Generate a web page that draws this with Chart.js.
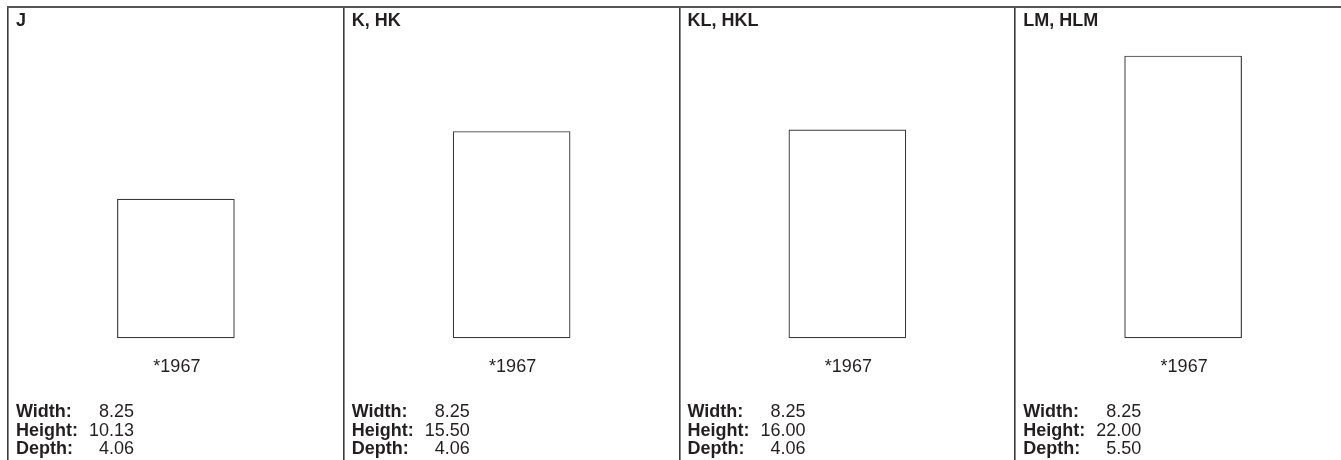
<!DOCTYPE html>
<html>
<head>
<meta charset="utf-8">
<script src="https://cdn.jsdelivr.net/npm/chart.js@4/dist/chart.umd.min.js"></script>
<style>
  html, body { margin: 0; padding: 0; background: #fff; overflow: hidden; }
  #wrap { position: relative; width: 1360px; height: 460px; }
</style>
</head>
<body>
<div id="wrap"><canvas id="chart"></canvas></div>
<script>
'use strict';

// model names per panel
const categories = ['J', 'K, HK', 'KL, HKL', 'LM, HLM'];
// outline box heights as drawn (tallest box = 22)
const boxHeights = [10.84, 16.11, 16.23, 22.0];
const yearLabels = ['*1967', '*1967', '*1967', '*1967'];
const widthValues = ['8.25', '8.25', '8.25', '8.25'];
const heightValues = ['10.13', '15.50', '16.00', '22.00'];
const depthValues = ['4.06', '4.06', '4.06', '5.50'];

const FONT = "'Liberation Sans', Arial, Helvetica, sans-serif";

// draws the panel titles, year and dimension texts
const panelText = {
  id: 'panelText',
  afterDraw: function (chart) {
    const ctx = chart.ctx;
    const x = chart.scales.x;
    const half = (x.getPixelForValue(1) - x.getPixelForValue(0)) / 2;
    const rows = [
      ['Width:', widthValues, 417],
      ['Height:', heightValues, 435.5],
      ['Depth:', depthValues, 454]
    ];
    ctx.save();
    ctx.fillStyle = '#231f20';
    ctx.textBaseline = 'alphabetic';
    categories.forEach(function (name, i) {
      const center = x.getPixelForValue(i);
      const left = center - half;

      ctx.font = 'bold 18px ' + FONT;
      ctx.textAlign = 'left';
      ctx.fillText(name, left + 8, 26);

      ctx.font = '18px ' + FONT;
      ctx.textAlign = 'center';
      ctx.fillText(yearLabels[i], center + 1, 372);

      rows.forEach(function (r) {
        ctx.font = 'bold 18px ' + FONT;
        ctx.textAlign = 'left';
        ctx.fillText(r[0], left + 8, r[2]);
        ctx.font = '18px ' + FONT;
        ctx.textAlign = 'right';
        ctx.fillText(r[1][i], left + 126, r[2]);
      });
    });
    ctx.restore();
  }
};

const ctx = document.getElementById('chart').getContext('2d');
new Chart(ctx, {
  type: 'bar',
  data: {
    labels: categories,
    datasets: [{
      data: boxHeights,
      backgroundColor: '#ffffff',
      borderColor: '#3a3a3a',
      borderWidth: 1.2,
      borderSkipped: false,
      barThickness: 117
    }]
  },
  options: {
    responsive: true,
    maintainAspectRatio: false,
    animation: false,
    layout: { padding: { top: 7, left: 8, right: 9, bottom: 0 } },
    plugins: {
      legend: { display: false },
      tooltip: { enabled: false }
    },
    scales: {
      x: {
        position: 'top',
        offset: true,
        ticks: { display: false },
        grid: {
          offset: true,
          drawTicks: false,
          color: '#3a3a3a',
          lineWidth: 1.6
        },
        border: { display: true, color: '#555555', width: 2 }
      },
      y: {
        display: false,
        min: -9.52,
        max: 25.82
      }
    }
  },
  plugins: [panelText]
});
</script>
</body>
</html>
